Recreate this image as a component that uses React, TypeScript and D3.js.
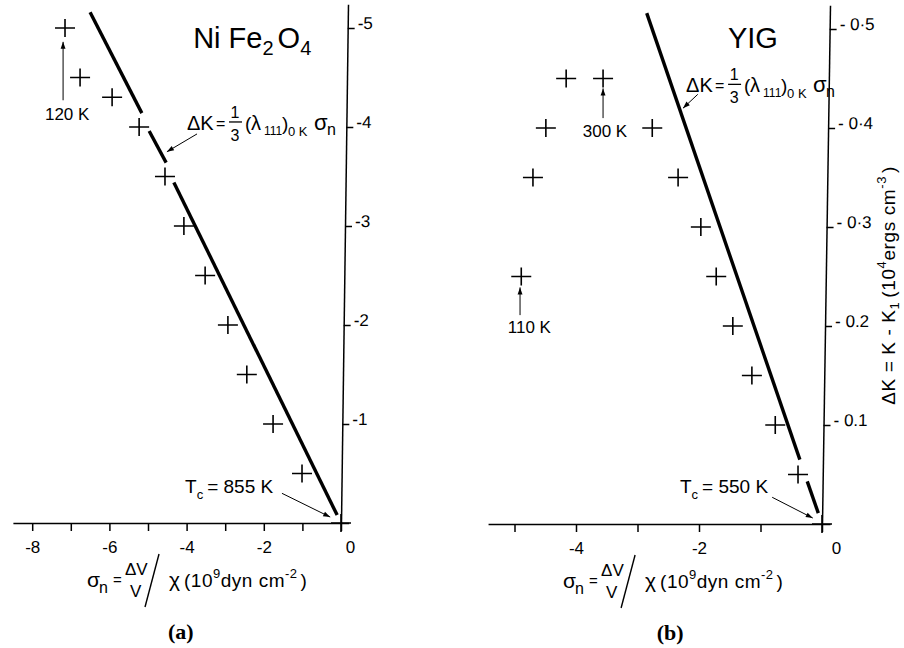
import { useEffect, useRef } from 'react';
import * as d3 from 'd3';

const FONT = "'Liberation Sans', Arial, Helvetica, sans-serif";

// (a) NiFe2O4 : sigma_n (1e9 dyn cm^-2) against ΔK (1e4 erg cm^-3)
const sigmaA = [-7.15, -6.76, -5.93, -5.23, -4.56, -4.07, -3.52, -2.93, -2.44, -1.76, -1.01, 0];
const deltaKA = [-5.0, -4.5, -4.3, -4.0, -3.5, -3.0, -2.5, -2.0, -1.5, -1.0, -0.5, 0];
// ΔK = 1/3 (λ111)0K σn, broken where it runs through the crosses
const fitA = [
  [[-6.5, -5.16], [-5.16, -4.14]],
  [[-4.97, -3.96], [-4.53, -3.64]],
  [[-4.33, -3.44], [-0.1, -0.08]],
];
const xTicksA = [-8, -7, -6, -5, -4, -3, -2, -1, 0];
const xLabelsA = [-8, -6, -4, -2, 0];
const yTicksA = [-1, -2, -3, -4, -5];
const yLabelsA = ['-1', '-2', '-3', '-4', '-5'];

// (b) YIG
const sigmaB = [-4.89, -4.7, -4.49, -4.16, -3.56, -2.76, -2.34, -1.97, -1.72, -1.45, -1.14, -0.76, -0.39, 0];
const deltaKB = [-0.25, -0.35, -0.4, -0.45, -0.45, -0.4, -0.35, -0.3, -0.25, -0.2, -0.15, -0.1, -0.05, 0];
const fitB = [
  [[-2.85, -0.516], [-0.36, -0.065]],
  [[-0.24, -0.043], [-0.06, -0.011]],
];
const xTicksB = [-5, -4, -3, -2, -1, 0];
const xLabelsB = [-4, -2, 0];
const yTicksB = [-0.1, -0.2, -0.3, -0.4, -0.5];
const yLabelsB = ['- 0.1', '- 0.2', '- 0·3', '- 0·4', '- 0·5'];

const panels = [
  {
    sigma: sigmaA, dK: deltaKA, fit: fitA,
    xTicks: xTicksA, xLabels: xLabelsA, yTicks: yTicksA, yLabels: yLabelsA,
    xDom: [-8.5, 0.2], xZero: 341, xUnit: 38.6,
    yDom: [0, -5.24], yZero: 523, yUnit: 99, lean: 7, zeroDx: 9,
    title: ['Ni Fe', '2', 'O', '4'], titleAt: [-3.83, -4.8],
    eqAt: [-3.99, -3.97], eqArrow: [[-3.73, -3.93], [-4.51, -3.75]],
    temps: [{ text: '120 K', at: [-7.67, -4.07], arrow: [[-7.2, -4.27], [-7.2, -4.86]] }],
    tc: '855', tcAt: [-4.04, -0.3], tcArrow: [[-1.53, -0.3], [-0.28, -0.06]],
    xLabelAt: -6.58, caption: '(a)', captionAt: -4.15,
  },
  {
    sigma: sigmaB, dK: deltaKB, fit: fitB,
    xTicks: xTicksB, xLabels: xLabelsB, yTicks: yTicksB, yLabels: yLabelsB,
    xDom: [-5.43, 0.13], xZero: 822, xUnit: 61.5,
    yDom: [0, -0.524], yZero: 524, yUnit: 990, lean: 8, zeroDx: 14,
    title: ['YIG'], titleAt: [-1.53, -0.481],
    eqAt: [-2.21, -0.436], eqArrow: [[-2.02, -0.434], [-2.26, -0.42]],
    temps: [
      { text: '300 K', at: [-3.89, -0.391], arrow: [[-3.56, -0.41], [-3.56, -0.44]] },
      { text: '110 K', at: [-5.11, -0.193], arrow: [[-4.91, -0.211], [-4.91, -0.239]] },
    ],
    tc: '550', tcAt: [-2.31, -0.031], tcArrow: [[-0.81, -0.027], [-0.15, -0.006]],
    xLabelAt: -4.21, caption: '(b)', captionAt: -2.47,
    yTitleAt: -0.241,
  },
];

const drawPanel = (svg, p) => {
  const x = d3
    .scaleLinear()
    .domain(p.xDom)
    .range(p.xDom.map((v) => p.xZero + v * p.xUnit));
  const y = d3
    .scaleLinear()
    .domain(p.yDom)
    .range(p.yDom.map((v) => p.yZero + v * p.yUnit));
  const g = svg.append('g').attr('font-family', FONT).attr('fill', '#000');

  // x axis
  const fmt = (d) => (p.xLabels.includes(d) ? (d < 0 ? '-' + Math.abs(d) : String(d)) : '');
  const xAxis = g
    .append('g')
    .attr('transform', `translate(0,${p.yZero})`)
    .call(d3.axisBottom(x).tickValues(p.xTicks).tickSize(8).tickPadding(10).tickSizeOuter(0).tickFormat(fmt));
  xAxis.attr('font-family', FONT).attr('font-size', 17);
  xAxis.select('.domain').attr('stroke-width', 1.5);
  xAxis.selectAll('.tick line').attr('stroke-width', 1.5);
  xAxis.selectAll('.tick').filter((d) => d === 0).select('text').attr('dx', p.zeroDx);

  // y axis (the scan leans a little)
  const yTop = y(p.yDom[1]);
  const tanB = p.lean / (p.yZero - yTop);
  const tilt = (Math.atan(tanB) * 180) / Math.PI;
  const yAxis = g
    .append('g')
    .attr('transform', `translate(${p.xZero + tanB * p.yZero},0) skewX(${-tilt})`)
    .call(
      d3.axisRight(y).tickValues(p.yTicks).tickSize(7).tickPadding(3).tickSizeOuter(0)
        .tickFormat((d, i) => p.yLabels[i])
    );
  yAxis.attr('font-family', FONT).attr('font-size', 17);
  yAxis.select('.domain').attr('stroke-width', 1.5);
  yAxis.selectAll('.tick line').attr('stroke-width', 1.5);
  yAxis.selectAll('.tick text').attr('dy', '0');

  // fitted line
  const line = d3.line().x((d) => x(d[0])).y((d) => y(d[1]));
  g.append('g')
    .selectAll('path')
    .data(p.fit)
    .join('path')
    .attr('d', line)
    .attr('fill', 'none')
    .attr('stroke', '#000')
    .attr('stroke-width', 3.4);

  // data crosses
  g.append('g')
    .selectAll('path')
    .data(d3.zip(p.sigma, p.dK))
    .join('path')
    .attr('d', ([s, k]) => `M${x(s) - 10},${y(k)}h20M${x(s)},${y(k) - 9}v18`)
    .attr('fill', 'none')
    .attr('stroke', '#000')
    .attr('stroke-width', 1.6);

  const arrow = (a) =>
    g.append('line')
      .attr('x1', x(a[0][0])).attr('y1', y(a[0][1]))
      .attr('x2', x(a[1][0])).attr('y2', y(a[1][1]))
      .attr('stroke', '#000').attr('stroke-width', 1)
      .attr('marker-end', 'url(#arr)');

  // title
  const title = g.append('text').attr('x', x(p.titleAt[0])).attr('y', y(p.titleAt[1])).attr('font-size', 29);
  title.append('tspan').text(p.title[0]);
  if (p.title.length > 1) {
    title.append('tspan').attr('font-size', 20).attr('dy', 7).text(p.title[1]);
    title.append('tspan').attr('dy', -7).attr('dx', 4).text(p.title[2]);
    title.append('tspan').attr('font-size', 20).attr('dy', 7).text(p.title[3]);
  }

  // equation of the line
  const eq = g.append('g').attr('transform', `translate(${x(p.eqAt[0])},${y(p.eqAt[1])})`);
  const put = (grp, dx, dy, size, s, anchor = 'start') =>
    grp.append('text').attr('x', dx).attr('y', dy).attr('font-size', size).attr('text-anchor', anchor).text(s);
  put(eq, 0, 0, 20, 'ΔK');
  put(eq, 29, -1, 16, '=');
  put(eq, 48, -12, 16, '1', 'middle');
  eq.append('line').attr('x1', 42).attr('x2', 55).attr('y1', -8).attr('y2', -8).attr('stroke', '#000').attr('stroke-width', 1.3);
  put(eq, 48, 11, 16, '3', 'middle');
  put(eq, 58, 0, 19, '(');
  put(eq, 64, 0, 20, 'λ');
  put(eq, 77, 5, 12, '111');
  put(eq, 95, 0, 19, ')');
  put(eq, 101, 6, 13, '0 K');
  put(eq, 127, 0, 22, 'σ');
  put(eq, 140, 5, 16, 'n');
  arrow(p.eqArrow);

  // temperatures
  p.temps.forEach((t) => {
    g.append('text').attr('x', x(t.at[0])).attr('y', y(t.at[1])).attr('font-size', 17).text(t.text);
    arrow(t.arrow);
  });

  // Curie point
  const tc = g.append('text').attr('x', x(p.tcAt[0])).attr('y', y(p.tcAt[1])).attr('font-size', 19);
  tc.append('tspan').text('T');
  tc.append('tspan').attr('font-size', 13).attr('dy', 6).text('c');
  tc.append('tspan').attr('dy', -6).attr('dx', 4).text('= ' + p.tc + '  K');
  arrow(p.tcArrow);

  // x axis title
  const xl = g.append('g').attr('transform', `translate(${x(p.xLabelAt)},${p.yZero + 64})`);
  put(xl, 0, 0, 21, 'σ');
  put(xl, 12, 6, 16, 'n');
  put(xl, 26, -2, 15, '=');
  put(xl, 38, -12, 17, 'ΔV');
  put(xl, 43, 10, 17, 'V');
  xl.append('line').attr('x1', 72).attr('y1', -33).attr('x2', 58).attr('y2', 20).attr('stroke', '#000').attr('stroke-width', 1.4);
  put(xl, 82, 0, 21, 'χ');
  const unit = xl.append('text').attr('x', 97).attr('y', 0).attr('font-size', 19).attr('letter-spacing', 0.5);
  unit.append('tspan').text('(10');
  unit.append('tspan').attr('font-size', 13).attr('dy', -9).text('9');
  unit.append('tspan').attr('dy', 9).text('dyn  cm');
  unit.append('tspan').attr('font-size', 13).attr('dy', -9).text('-2');
  unit.append('tspan').attr('dy', 9).attr('dx', 3).text(')');

  // caption
  g.append('text')
    .attr('x', x(p.captionAt))
    .attr('y', p.yZero + 116)
    .attr('text-anchor', 'middle')
    .attr('font-family', "'Liberation Serif', 'Times New Roman', serif")
    .attr('font-weight', 'bold')
    .attr('font-size', 22)
    .text(p.caption);

  // y axis title (right panel only)
  if (p.yTitleAt !== undefined) {
    const yt = g
      .append('text')
      .attr('transform', `translate(${p.xZero + 73},${y(p.yTitleAt)}) rotate(-90)`)
      .attr('text-anchor', 'middle')
      .attr('font-size', 19)
      .attr('letter-spacing', 0.6);
    yt.append('tspan').text('ΔK = K - K');
    yt.append('tspan').attr('font-size', 13).attr('dy', 4).text('1');
    yt.append('tspan').attr('dy', -4).attr('dx', 4).text('(10');
    yt.append('tspan').attr('font-size', 13).attr('dy', -9).text('4');
    yt.append('tspan').attr('dy', 9).text('ergs  cm');
    yt.append('tspan').attr('font-size', 13).attr('dy', -9).text('-3');
    yt.append('tspan').attr('dy', 9).attr('dx', 3).text(')');
  }
};

const App = () => {
  const svgRef = useRef(null);

  useEffect(() => {
    const svg = d3.select(svgRef.current);
    svg.selectAll('*').remove();
    svg
      .append('defs')
      .append('marker')
      .attr('id', 'arr')
      .attr('viewBox', '0 0 10 10')
      .attr('refX', 10)
      .attr('refY', 5)
      .attr('markerWidth', 9)
      .attr('markerHeight', 7)
      .attr('markerUnits', 'userSpaceOnUse')
      .attr('orient', 'auto')
      .append('path')
      .attr('d', 'M0,1.5L10,5L0,8.5Z')
      .attr('fill', '#000');
    panels.forEach((p) => drawPanel(svg, p));
  }, []);

  return (
    <svg
      ref={svgRef}
      width={904}
      height={648}
      style={{ position: 'absolute', left: 0, top: 0, background: '#fff', display: 'block' }}
    />
  );
};

export default App;
